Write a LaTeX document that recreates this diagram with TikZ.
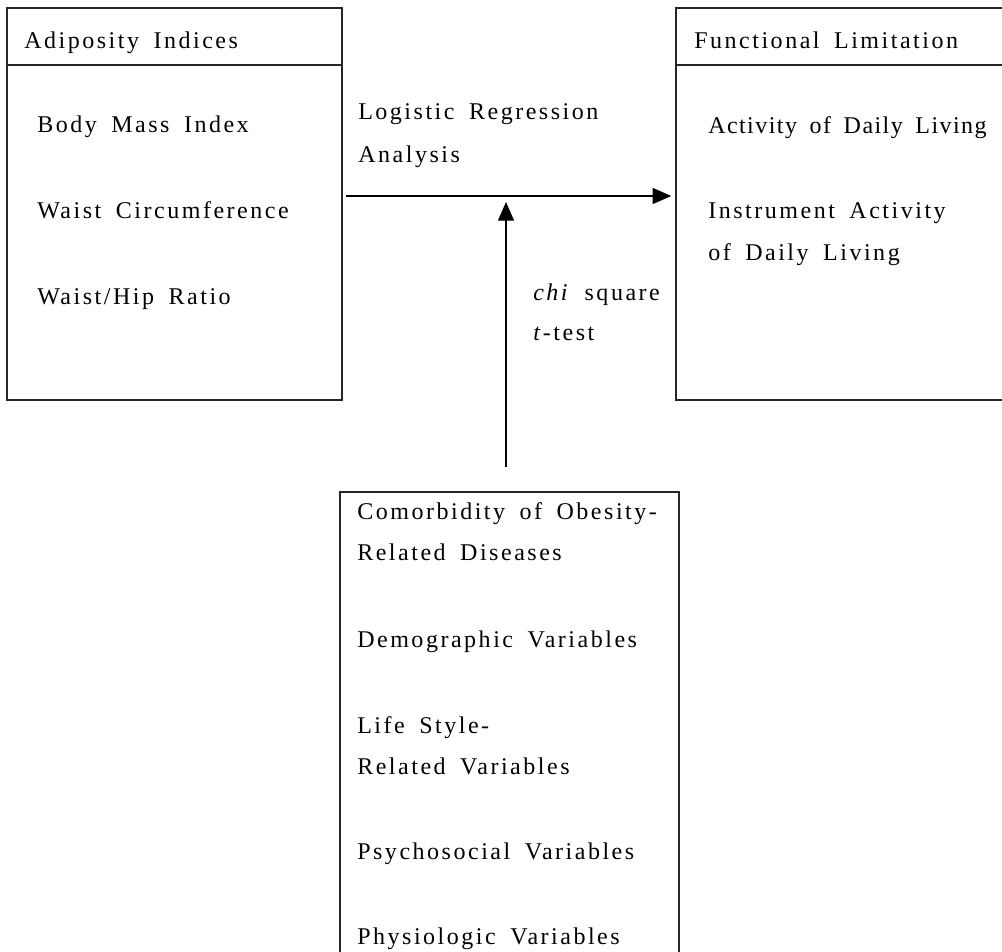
\documentclass[tikz,border=0pt]{standalone}
\usepackage{fontspec}
\setmainfont{Liberation Serif}[LetterSpace=10.5,WordSpace=1.7]
\usetikzlibrary{arrows.meta,fit}
\begin{document}
\begin{tikzpicture}[x=0.75pt,y=-0.75pt,
  box/.style={draw=black!85,line width=1pt,inner sep=0pt,fit={#1}},
  txt/.style={anchor=base west,inner sep=0pt,font=\fontsize{18}{22}\selectfont},
  arr/.style={draw=black,line width=0.9pt,-{Triangle[length=14pt,width=12pt]}}]
\useasboundingbox (0,0) rectangle (1002,952);
\clip (0,0) rectangle (1002,952);
% left box
\node[box={(7,8)(342,65)}] (adiphead) {};
\node[box={(7,65)(342,400)}] (adipbody) {};
% right box
\node[box={(676,8)(1020,65)}] (limhead) {};
\node[box={(676,65)(1020,400)}] (limbody) {};
% bottom box
\node[box={(340,492)(679,980)}] (cov) {};
% texts
\node[txt] (t1) at (24,49) {Adiposity Indices};
\node[txt] (t2) at (37,133) {Body Mass Index};
\node[txt] (t3) at (37,219) {Waist Circumference};
\node[txt] (t4) at (37,304) {Waist/Hip Ratio};
\node[txt] (t5) at (694,49) {Functional Limitation};
\node[txt] (t6) at (708,134) {\addfontfeature{LetterSpace=6}Activity of Daily Living};
\node[txt] (t7) at (708,219) {Instrument Activity};
\node[txt] (t8) at (708,260) {of Daily Living};
\node[txt] (t9) at (358,120) {Logistic Regression};
\node[txt] (t10) at (358,163) {Analysis};
\node[txt] (t11) at (533,300) {\textit{chi} square};
\node[txt] (t12) at (533,340) {\textit{t}-test};
\node[txt] (b1) at (357,519) {Comorbidity of Obesity-};
\node[txt] (b2) at (357,560) {Related Diseases};
\node[txt] (b3) at (357,647) {Demographic Variables};
\node[txt] (b4) at (357,733) {Life Style-};
\node[txt] (b5) at (357,774) {Related Variables};
\node[txt] (b6) at (357,859) {Psychosocial Variables};
\node[txt] (b7) at (357,944) {Physiologic Variables};
% connectors
\coordinate (hy) at (0,196);
\coordinate (vtip) at (506,202);
\draw[arr] ([xshift=2.25pt]adipbody.east |- hy) -- ([xshift=-3pt]limbody.west |- hy);
\draw[arr] ([yshift=18pt]cov.north -| vtip) -- (vtip);
\end{tikzpicture}
\end{document}
